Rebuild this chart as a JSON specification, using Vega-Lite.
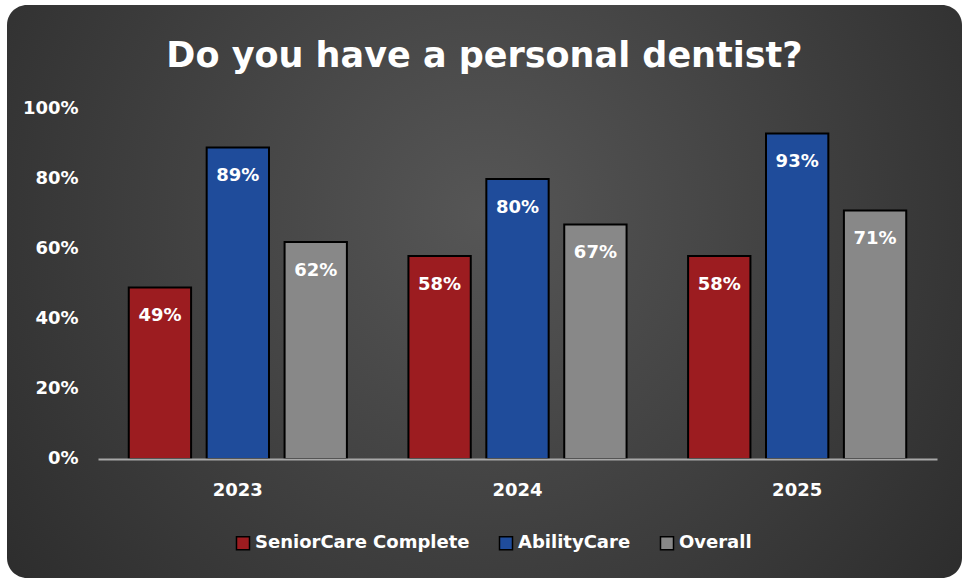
{
  "$schema": "https://vega.github.io/schema/vega-lite/v6.json",
  "width": 955,
  "height": 573,
  "autosize": {"type": "none"},
  "padding": {"left": 7, "top": 5, "right": 5, "bottom": 4},
  "background": "white",
  "config": {
    "font": "DejaVu Sans",
    "view": {
      "stroke": null,
      "cornerRadius": 20,
      "fill": {
        "gradient": "radial",
        "x1": 0.5, "y1": 0.42, "r1": 0,
        "x2": 0.5, "y2": 0.42, "r2": 0.75,
        "stops": [
          {"offset": 0, "color": "#565656"},
          {"offset": 1, "color": "#252525"}
        ]
      }
    }
  },
  "title": {
    "text": "Do you have a personal dentist?",
    "color": "white",
    "font": "DejaVu Sans",
    "fontSize": 35,
    "fontWeight": "bold",
    "anchor": "middle",
    "baseline": "alphabetic",
    "offset": -97
  },
  "data": {
    "values": [
      {"year": "2023", "series": "SeniorCare Complete", "value": 0.49},
      {"year": "2023", "series": "AbilityCare", "value": 0.89},
      {"year": "2023", "series": "Overall", "value": 0.62},
      {"year": "2024", "series": "SeniorCare Complete", "value": 0.58},
      {"year": "2024", "series": "AbilityCare", "value": 0.80},
      {"year": "2024", "series": "Overall", "value": 0.67},
      {"year": "2025", "series": "SeniorCare Complete", "value": 0.58},
      {"year": "2025", "series": "AbilityCare", "value": 0.93},
      {"year": "2025", "series": "Overall", "value": 0.71}
    ]
  },
  "encoding": {
    "x": {
      "field": "year",
      "type": "nominal",
      "scale": {"range": [91, 930], "paddingInner": 0.22, "paddingOuter": 0.11},
      "axis": {
        "title": null,
        "orient": "bottom",
        "offset": -119,
        "domain": true,
        "domainColor": "#a8a8a8",
        "domainWidth": 2,
        "ticks": false,
        "tickSize": 0,
        "labelAngle": 0,
        "labelColor": "white",
        "labelFont": "DejaVu Sans",
        "labelFontSize": 18,
        "labelFontWeight": "bold",
        "labelPadding": 22,
        "grid": false,
        "zindex": 1
      }
    },
    "xOffset": {
      "field": "series",
      "type": "nominal",
      "sort": ["SeniorCare Complete", "AbilityCare", "Overall"],
      "scale": {"paddingInner": 0.2, "paddingOuter": 0}
    },
    "y": {
      "field": "value",
      "type": "quantitative",
      "scale": {"domain": [-0.34, 1.2971], "nice": false, "zero": false},
      "axis": {
        "title": null,
        "orient": "left",
        "offset": -71,
        "values": [0, 0.2, 0.4, 0.6, 0.8, 1],
        "format": ".0%",
        "domain": false,
        "ticks": false,
        "tickSize": 0,
        "grid": false,
        "labelPadding": 0,
        "labelColor": "white",
        "labelFont": "DejaVu Sans",
        "labelFontSize": 18,
        "labelFontWeight": "bold"
      }
    }
  },
  "layer": [
    {
      "mark": {"type": "bar", "stroke": "black", "strokeWidth": 2},
      "encoding": {
        "color": {
          "field": "series",
          "type": "nominal",
          "sort": ["SeniorCare Complete", "AbilityCare", "Overall"],
          "scale": {
            "domain": ["SeniorCare Complete", "AbilityCare", "Overall"],
            "range": ["#9c1c20", "#1f4c9b", "#888888"]
          },
          "legend": {
            "title": null,
            "orient": "none",
            "legendX": 227,
            "legendY": 529,
            "direction": "horizontal",
            "symbolType": "square",
            "symbolSize": 169,
            "symbolStrokeColor": "black",
            "symbolStrokeWidth": 1.5,
            "symbolOpacity": 1,
            "labelColor": "white",
            "labelFont": "DejaVu Sans",
            "labelFontSize": 18,
            "labelFontWeight": "bold",
            "labelLimit": 400,
            "labelOffset": 3,
            "columnPadding": 26
          }
        }
      }
    },
    {
      "mark": {
        "type": "text",
        "dy": 29,
        "color": "white",
        "font": "DejaVu Sans",
        "fontSize": 18,
        "fontWeight": "bold",
        "baseline": "middle",
        "align": "center"
      },
      "encoding": {
        "text": {"field": "value", "type": "quantitative", "format": ".0%"}
      }
    }
  ]
}
